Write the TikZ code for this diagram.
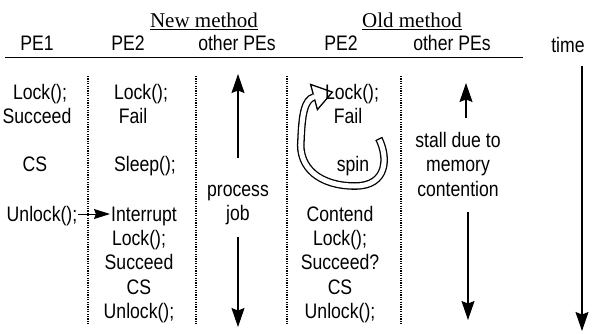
\documentclass[tikz,border=0pt]{standalone}
\usepackage{fontspec}
\setmainfont[FakeStretch=0.84]{Liberation Sans}
\newfontfamily\headfont{Liberation Serif}
\usetikzlibrary{arrows.meta,positioning}

\begin{document}
\begin{tikzpicture}[%
x=1pt, y=-1pt,
>={Stealth[length=19pt,width=13pt,inset=2.5pt]},
node distance=24.4pt,
on grid,
lbl/.style={font=\fontsize{21pt}{24pt}\selectfont, text height=15pt, text depth=0pt, inner ysep=0pt, inner xsep=1pt},
head/.style={font=\headfont\fontsize{21pt}{24pt}\selectfont, inner sep=0pt, anchor=base},
sep/.style={line width=1.2pt, dash pattern=on 1.2pt off 1.2pt},
flow/.style={->, line width=1.2pt},
poke/.style={-{Stealth[length=16pt,width=10pt,inset=2pt]}, line width=0.9pt},
band/.style={double=white, double distance=5pt, line width=1.3pt}
]
\useasboundingbox (0,0) rectangle (592,333);

% titles and column heads
\node[head] (new) at (204,27) {New method};
\node[head] (old) at (412,27) {Old method};
\draw[line width=1.1pt] ([yshift=-2.5pt]new.base west) -- ([yshift=-2.5pt]new.base east);
\draw[line width=1.1pt] ([yshift=-2.5pt]old.base west) -- ([yshift=-2.5pt]old.base east);

\node[lbl] (h1) at (37,42.5) {PE1};
\node[lbl] (h2) at (128,42.5) {PE2};
\node[lbl] (h3) at (237,42.5) {other PEs};
\node[lbl] (h4) at (341,42.5) {PE2};
\node[lbl] (h5) at (452,42.5) {other PEs};
\node[lbl] (h6) at (568,45) {time};
\draw[line width=1.8pt] (5,57.5) -- (523,57.5);

% column separators
\foreach \x in {88,196,287,401}
  \draw[sep] (\x,76) -- (\x,325);

% spin loop
\draw[band] (379,139) .. controls (388,157) and (388,186) .. (355,186)
  .. controls (320,186) and (298,168) .. (301,140)
  .. controls (302,115) and (304.3,99.6) .. (314,97);
\filldraw[fill=white, line width=1.3pt] (310.6,84.4) -- (332.4,92.1) -- (317.4,109.6) -- cycle;
\draw[white, line width=2pt] (313.4,94.6) -- (314.6,99.4);
\draw[line width=1.3pt] (375.6,140.7) -- (382.4,137.3);

% PE1
\node[lbl] (a1) at (40,92) {Lock();};
\node[lbl] (a2) at (37,116) {Succeed};
\node[lbl] (a3) at (35,164) {CS};
\node[lbl] (a4) at (42,214) {Unlock();};

% PE2, new method
\node[lbl] (b1) at (141,92) {Lock();};
\node[lbl] (b2) at (133,116) {Fail};
\node[lbl] (b3) at (145,164) {Sleep();};
\node[lbl] (b4) at (144,214) {Interrupt};
\node[lbl] (b5) at (139,238) {Lock();};
\node[lbl] (b6) [below of=b5] {Succeed};
\node[lbl] (b7) [below of=b6] {CS};
\node[lbl] (b8) [below of=b7] {Unlock();};

% other PEs, new method
\node[lbl] (c1) at (238,189) {process};
\node[lbl] (c2) [below of=c1] {job};
\coordinate (cu0) at (238,158);
\coordinate (cu1) at (238,74);
\coordinate (cd0) at (238,237);
\coordinate (cd1) at (238,327);

% PE2, old method
\node[lbl] (d1) at (352,92) {Lock();};
\node[lbl] (d2) at (348,116) {Fail};
\node[lbl] (d3) at (353,164) {spin};
\node[lbl] (d4) at (340,213.5) {Contend};
\node[lbl] (d5) [below of=d4] {Lock();};
\node[lbl] (d6) [below of=d5] {Succeed?};
\node[lbl] (d7) [below of=d6] {CS};
\node[lbl] (d8) [below of=d7] {Unlock();};

% other PEs, old method
\node[lbl] (e1) at (458,140) {stall due to};
\node[lbl] (e2) [below of=e1] {memory};
\node[lbl] (e3) [below of=e2] {contention};
\coordinate (eu0) at (466,118);
\coordinate (eu1) at (466,83);
\coordinate (ed0) at (468,212);
\coordinate (ed1) at (468,320);

% time
\coordinate (t0) at (582,66);
\coordinate (t1) at (582,331);

\path[poke] (a4) edge (b4);
\path[flow] (cu0) edge (cu1);
\path[flow] (cd0) edge (cd1);
\path[flow] (eu0) edge (eu1);
\path[flow] (ed0) edge (ed1);
\path[flow] (t0) edge (t1);
\end{tikzpicture}
\end{document}
